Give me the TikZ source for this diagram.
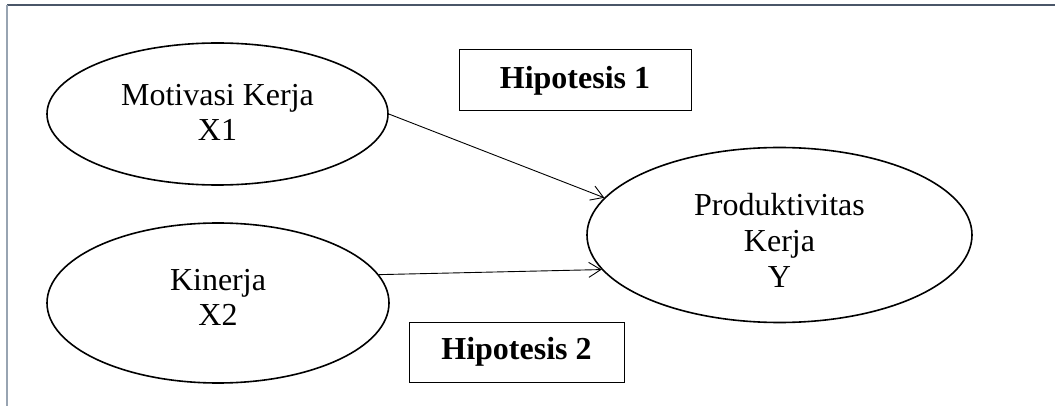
\documentclass[tikz,border=0pt]{standalone}
\usepackage{fontspec}
\setmainfont{Liberation Serif}
\usetikzlibrary{shapes.geometric,arrows.meta}
\definecolor{frametop}{RGB}{74,86,104}
\definecolor{frameleft}{RGB}{152,164,178}
\tikzset{
  var/.style={ellipse,draw,line width=1.6pt,inner sep=0pt},
  vartext/.style={inner sep=0pt,align=center,font=\fontsize{32}{35}\selectfont},
  hypbox/.style={draw,line width=1pt,inner sep=0pt,
              font=\fontsize{32}{36}\selectfont\bfseries},
  arr/.style={line width=0.9pt,-{Straight Barb[length=12pt,width=15pt,line width=0.9pt]}}
}
\begin{document}
\begin{tikzpicture}[x=1pt,y=-1pt]
\useasboundingbox (0,0) rectangle (1055,406);
\fill[white] (0,0) rectangle (1055,406);
\coordinate (ftl) at (7,5);
\coordinate (ftr) at (1056,5);
\coordinate (fbl) at (7,407);
\draw[frametop,line width=1.6pt] (ftl) -- (ftr);
\draw[frameleft,line width=1.8pt] (ftl) -- (fbl);

\node[var,minimum width=341pt,minimum height=142pt] (m) at (217.5,114) {};
\node[vartext] (mt) at ([yshift=2pt]m.center) {Motivasi Kerja\\X1};
\node[var,minimum width=342pt,minimum height=160pt] (k) at (218,303) {};
\node[vartext] (kt) at ([yshift=6pt]k.center) {Kinerja\\X2};
\node[var,minimum width=385pt,minimum height=175pt] (y) at (779.5,235) {};
\node[vartext,font=\fontsize{32}{36}\selectfont] (yt) at ([yshift=-5pt]y.center) {Produktivitas\\Kerja\\Y};

\node[hypbox,minimum width=232pt,minimum height=61pt] (h1) at (575,80.5) {Hipotesis 1};
\node[hypbox,minimum width=215pt,minimum height=60pt] (h2) at (516.5,352) {Hipotesis 2};

\draw[arr] (m.east) -- (y.168);
\draw[arr] (k.10.5) -- (y.191);
\end{tikzpicture}
\end{document}
